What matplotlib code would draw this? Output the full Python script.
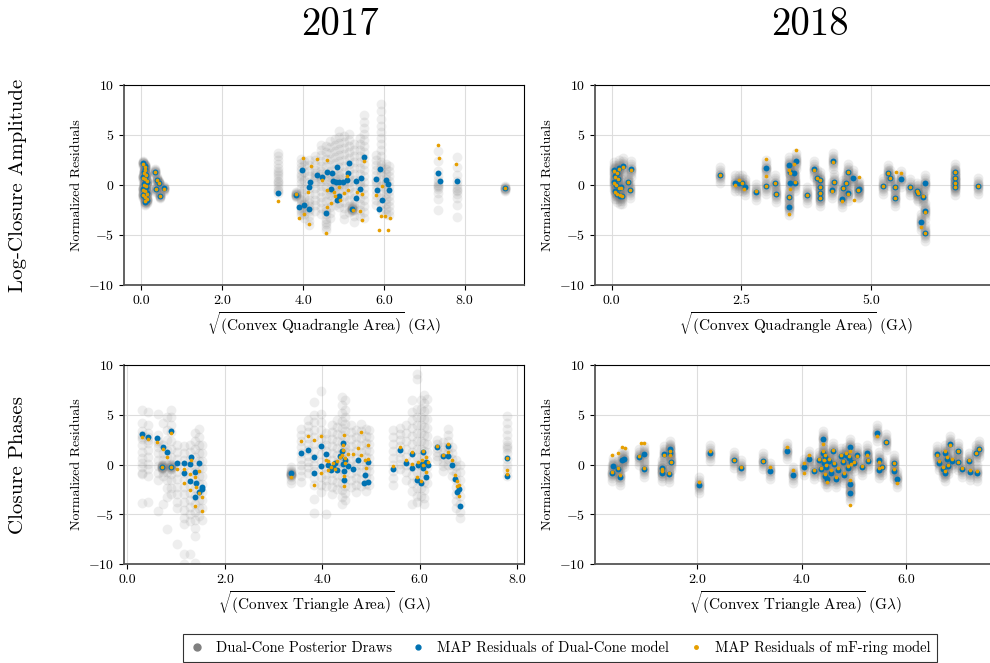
import numpy as np
import matplotlib
matplotlib.use('Agg')
import matplotlib.pyplot as plt
from matplotlib.ticker import FormatStrFormatter
from matplotlib.lines import Line2D

plt.rcParams['font.family'] = 'serif'
plt.rcParams['font.serif'] = ['cmr10']
plt.rcParams['mathtext.fontset'] = 'cm'
plt.rcParams['axes.formatter.use_mathtext'] = True

c_draw = 'gray'
c_dc = '#0072B2'
c_mf = '#E69F00'

# ---------------------------------------------------------------------------
# 2017 log-closure amplitudes
# posterior draws: tight ones around the short baselines, wide columns elsewhere
lca17_tight_x = [0.05, 0.08, 0.10, 0.06, 0.12, 0.04, 0.10, 0.14, 0.07, 0.12, 0.03, 0.09,
                 0.15, 0.05, 0.10, 0.13, 0.08, 0.33, 0.38, 0.43, 0.36, 0.56, 0.46, 3.82, 5.22, 9.01]
lca17_tight_y = [2.2, 1.9, 1.6, 1.3, 1.0, 0.8, 0.6, 0.3, 0.1, -0.2, -0.4, -0.6,
                 -0.8, -1.0, -1.2, -1.5, -1.7, 1.33, 0.53, 0.2, -0.4, -0.33, -1.07, -0.97, -2.37, -0.33]
lca17_col_x = [3.37, 3.95, 4.03, 4.15, 4.30, 4.45, 4.57, 4.68, 4.80, 4.90, 5.02, 5.14,
               5.27, 5.40, 5.50, 5.80, 5.93, 6.05, 6.13, 7.35, 7.81]
lca17_col_y = [
    [3.2, 2.9, 2.5, 2.1, 1.7, 1.4, 1.0, 0.7, 0.4, 0.1, -0.2, -0.5, -0.8, -0.6, 0.3, 1.2],
    [2.6, 2.2, 1.8, 1.5, 1.1, 0.6, 0.2, -0.3, -0.8, -1.4, -1.9, -2.3, -2.7, -3.0, -2.5, -2.0, -1.5, 0.9],
    [2.4, 2.0, 1.3, 0.5, -0.4, -1.2, -1.9, -2.4, -2.9, -3.3, -2.2, -1.7],
    [2.5, 2.0, 1.4, 0.9, 0.3, -0.3, -0.9, -1.5, -2.1, -2.6, -3.1, -3.6, -4.0, -2.4, -1.8],
    [2.9, 2.5, 2.0, 1.5, 1.0, 0.6, 0.2, -0.3, -0.9, -1.5, -2.0, -2.6, 1.2, 0.8],
    [4.0, 3.5, 3.0, 2.4, 1.9, 1.4, 0.9, 0.4, -0.1, -0.6, -1.2, -1.7, -2.3, -2.9, 0.6, 1.1],
    [3.9, 3.3, 2.6, 1.9, 1.2, 0.5, -0.2, -0.9, -1.6, -2.3, -2.9, -3.4, -3.9, -4.2, -4.5, -3.7, -2.6],
    [4.4, 3.8, 3.2, 2.6, 2.0, 1.4, 0.8, 0.2, -0.4, -1.0, -1.6, -2.2, -2.8, -3.3, 0.5, 1.1, -0.7],
    [4.6, 4.0, 3.4, 2.8, 2.2, 1.6, 1.0, 0.4, -0.2, -0.8, -1.4, -2.0, 0.7, 0.1, -0.5],
    [5.4, 4.8, 4.2, 3.6, 3.0, 2.4, 1.8, 1.2, 0.6, 0.0, -0.6, -1.2, -1.8, -2.2, 0.3, 0.9],
    [4.9, 4.3, 3.7, 3.1, 2.5, 1.9, 1.3, 0.7, 0.1, -0.5, -1.1, -1.7, -2.3, -2.9, -3.4, 0.4, -0.2],
    [5.1, 4.5, 3.9, 3.3, 2.7, 2.1, 1.5, 0.9, 0.3, -0.3, -0.9, -1.5, -2.1, -2.7, 0.6],
    [4.1, 3.5, 2.9, 2.3, 1.7, 1.1, 0.5, -0.1, -0.7, -1.3, -1.9, -2.5, -3.1, -3.7, -2.2],
    [4.7, 4.1, 3.5, 2.9, 2.3, 1.7, 1.1, 0.5, -0.1, -0.7, -1.3, -1.9, -2.5, -3.1, 0.2],
    [7.0, 6.3, 5.7, 5.1, 4.5, 3.9, 3.3, 2.7, 2.1, 1.5, 0.9, 0.3, -0.3, -0.9, -1.5, -2.1, -2.7, -3.3],
    [3.0, 2.5, 2.0, 1.5, 1.0, 0.5, 0.0, -0.5, -1.0, -1.5, -2.0, 0.3],
    [8.1, 7.4, 6.6, 5.9, 5.3, 4.7, 4.1, 3.5, 2.9, 2.3, 1.7, 1.1, 0.5, -0.1, -0.7, -1.3, -1.9, -2.5, 2.0, 1.4],
    [2.1, 1.6, 1.1, 0.6, 0.1, -0.4, -0.9, -1.4, -1.9, -2.4, -2.9, 0.3],
    [1.9, 1.4, 0.9, 0.4, -0.1, -0.6, -1.1, -1.6, -2.1, -2.6, -3.0],
    [3.4, 2.4, 1.4, 0.9, 0.5, 0.2, -0.1, -0.4, -0.8, -1.4, -2.5, 0.0, -0.2],
    [2.8, 1.8, 1.0, 0.4, 0.0, -0.3, -0.6, -0.9, -1.3, -2.0, -3.2, -0.5],
]
lca17_dc_x = [0.05, 0.08, 0.10, 0.06, 0.12, 0.04, 0.10, 0.14, 0.07, 0.12, 0.03, 0.09, 0.15, 0.05,
              0.10, 0.13, 0.08, 0.33, 0.38, 0.43, 0.36, 0.56, 0.46,
              3.37, 3.82, 3.90, 3.98, 4.03, 4.15, 4.15, 4.18, 4.35, 4.46, 4.56, 4.60, 4.69, 4.71,
              4.74, 4.82, 4.90, 4.98, 5.08, 4.84, 4.88, 4.84, 5.12, 5.14, 5.22, 5.31, 5.32, 5.40,
              5.44, 5.52, 5.80, 5.83, 5.90, 5.88, 5.95, 6.05, 6.10, 6.12, 7.33, 7.38, 7.81, 9.01]
lca17_dc_y = [2.2, 1.9, 1.6, 1.3, 1.0, 0.8, 0.6, 0.3, 0.1, -0.2, -0.4, -0.6, -0.8, -1.0,
              -1.2, -1.5, -1.7, 1.33, 0.53, 0.2, -0.4, -0.33, -1.07,
              -0.77, -0.97, -2.23, 1.5, -1.97, -0.17, -2.37, 0.3, 0.97, 0.77, -2.83, 1.3, -0.43, 1.17,
              0.4, 0.3, 0.3, 0.35, 0.5, 1.77, -1.1, -1.5, 1.17, 2.17, -2.37, 0.43, -1.3, -0.43,
              0.7, 2.77, 0.57, -0.5, 1.63, -2.43, -1.5, 0.5, 0.1, -0.5, 1.23, 0.43, 0.43, -0.33]
lca17_mf_x = [0.05, 0.08, 0.10, 0.06, 0.12, 0.04, 0.10, 0.14, 0.07, 0.12, 0.03, 0.09, 0.15, 0.05,
              0.10, 0.13, 0.08, 0.33, 0.38, 0.43, 0.36, 0.56, 0.46,
              3.38, 3.82, 3.89, 3.99, 4.03, 4.13, 4.16, 4.19, 4.34, 4.48, 4.59, 4.56, 4.60, 4.60,
              4.69, 4.77, 4.80, 4.90, 4.92, 5.02, 5.08, 5.12, 5.25, 5.33, 5.41, 5.45, 5.46, 5.51,
              5.81, 5.89, 5.92, 5.96, 6.04, 6.10, 6.15, 7.33, 7.36, 7.79, 9.01]
lca17_mf_y = [2.1, 1.8, 1.5, 1.2, 1.0, 0.7, 0.6, 0.4, 0.0, -0.1, -0.5, -0.6, -0.9, -1.0,
              -1.2, -1.4, -1.6, 1.3, 0.5, 0.2, -0.35, -0.35, -1.1,
              -1.6, -0.93, -3.33, 2.73, -2.93, -0.73, -3.87, 1.93, 2.6, 0.53, -2.2, -4.8, 2.53, -0.47,
              -1.8, -0.67, -1.13, -0.2, -1.47, -0.8, 0.87, -0.47, -2.47, -0.67, -2.63, -3.47, -0.87, 2.4,
              -1.0, -4.47, -3.13, -0.07, -3.07, -4.47, -3.27, 4.0, 2.73, 2.13, -0.33]

# ---------------------------------------------------------------------------
# 2018 log-closure amplitudes
lca18_dc_x = [0.05, 0.10, 0.07, 0.12, 0.04, 0.09, 0.14, 0.06, 0.11, 0.16, 0.20, 0.22, 0.37, 0.32,
              0.35, 0.15, 0.18,
              2.08, 2.38, 2.46, 2.51, 2.57, 2.78, 2.98, 2.98, 3.15, 3.16, 3.42, 3.43, 3.43, 3.42,
              3.42, 3.52, 3.56, 3.53, 3.77, 3.90, 3.96, 4.02, 4.02, 4.02, 4.02, 4.24, 4.27, 4.28,
              4.44, 4.47, 4.52, 4.55, 4.55, 4.66, 4.75, 4.77, 5.23, 5.33, 5.36, 5.46, 5.47, 5.57,
              5.76, 5.89, 5.91, 6.00, 6.05, 6.04, 5.96, 6.05, 6.62, 6.62, 6.62, 6.62, 7.06]
lca18_dc_y = [1.5, 1.2, 0.9, 0.6, 0.3, 0.0, -0.3, -0.6, -0.9, -1.1, -1.1, 1.9, 1.57, 0.33,
              -0.5, 1.7, -0.2,
              0.97, 0.17, 0.2, 0.17, -0.2, -0.67, 1.67, -0.1, 0.17, -0.9, 2.0, 1.33, 0.17, -1.2,
              -2.23, 1.17, 2.43, 0.23, -0.97, 1.57, 0.67, 0.5, -0.17, -0.77, -1.33, -0.5, 2.43, 0.3,
              -1.37, -0.33, 0.17, 1.33, -0.83, 0.67, -0.5, -0.4, -0.1, 1.23, 0.67, -0.17, -1.33, 0.57,
              -0.23, -0.63, -0.83, -1.17, 0.17, -2.57, -3.67, -4.77, 1.33, 0.67, 0.17, -0.23, -0.1]
lca18_mf_x = [0.05, 0.10, 0.07, 0.12, 0.04, 0.09, 0.14, 0.06, 0.11, 0.16, 0.20, 0.22, 0.37, 0.32,
              0.35, 0.15, 0.18,
              2.08, 2.38, 2.46, 2.51, 2.55, 2.78, 2.98, 2.98, 2.98, 3.15, 3.16, 3.42, 3.43, 3.43,
              3.42, 3.42, 3.52, 3.56, 3.53, 3.77, 3.90, 3.96, 4.02, 4.02, 4.02, 4.02, 4.24, 4.27,
              4.28, 4.44, 4.47, 4.52, 4.55, 4.55, 4.68, 4.76, 4.75, 5.23, 5.33, 5.36, 5.46, 5.47,
              5.49, 5.58, 5.76, 5.89, 5.91, 6.00, 6.04, 5.96, 6.05, 6.62, 6.62, 6.62, 6.62, 7.06]
lca18_mf_y = [1.4, 1.2, 0.8, 0.6, 0.2, 0.0, -0.3, -0.7, -0.9, -1.0, -1.1, 1.8, 1.55, 0.35,
              -0.5, 1.6, -0.3,
              0.97, 0.0, 0.5, 0.17, -0.37, -0.6, 2.57, 0.9, -0.1, 0.2, -0.9, 1.5, 1.2, -0.43,
              -1.2, -2.9, 2.1, 3.5, 0.3, -1.0, 1.5, 0.7, 0.55, -0.17, -0.77, -1.33, -0.55, 2.3,
              0.3, -1.6, -0.3, 0.2, 1.3, -0.9, -1.5, 0.83, -0.5, -0.1, 1.2, 0.67, -0.2, -1.3,
              1.27, 1.17, -0.23, -0.6, -0.8, -1.1, -2.7, -4.17, -4.77, 1.3, 0.67, 0.17, -0.23, -0.1]

# ---------------------------------------------------------------------------
# 2017 closure phases
cp17_col_x = [0.30, 0.43, 0.62, 0.73, 0.82, 0.90, 1.02, 1.16, 1.28, 1.39, 1.47, 1.54,
              3.35, 3.56, 3.71, 3.84, 3.97, 4.08, 4.20, 4.30, 4.40, 4.46, 4.58, 4.70, 4.80,
              4.90, 4.95, 5.46, 5.60, 5.72, 5.84, 5.94, 6.02, 6.08, 6.15, 6.35, 6.47, 6.57,
              6.67, 6.75, 6.82, 7.80]
cp17_col_y = [
    [5.5, 4.2, 3.4, 3.0, 2.6, 2.0, 1.3, 0.7, 0.2, -0.3, -0.9, -1.0, -3.9, 2.8],
    [5.3, 4.0, 3.2, 2.8, 2.2, 1.5, 0.8, 0.1, -0.5, -1.2, -3.8, 2.5],
    [5.1, 3.0, 2.4, 1.8, 1.2, 0.5, -0.2, -0.9, -1.6, -4.7, 2.2],
    [4.2, 2.0, 1.2, 0.5, 0.0, -0.4, -0.8, -1.2, -4.0, -0.3, -0.2],
    [4.8, 3.5, 2.5, 1.5, 0.8, 0.0, -0.8, -1.6, -2.4, -6.5, -3.3],
    [5.5, 4.8, 4.0, 3.3, 2.4, 1.6, 0.8, 0.0, -0.5, -1.0, -1.6, -2.4, -3.0],
    [2.0, 1.3, 0.6, -0.1, -0.8, -1.5, -2.3, -3.0, -3.8, -8.0, -4.4],
    [1.9, 1.2, 0.5, -0.2, -0.9, -1.6, -2.3, -3.0, -3.8, -4.6, -5.4, -6.0, -10.0, -9.0],
    [2.0, 1.3, 0.6, -0.1, -0.8, -1.5, -2.2, -2.9, -3.6, -4.3, -5.0, -5.7, -9.0],
    [3.2, 2.4, 1.6, 0.8, 0.0, -0.8, -1.6, -2.4, -3.2, -4.0, -4.8, -5.6, -6.4, -7.2, -9.9],
    [3.6, 2.8, 2.0, 1.2, 0.4, -0.4, -1.2, -2.0, -2.8, -3.6, -4.4, -5.2],
    [2.0, 1.2, 0.4, -0.4, -1.2, -2.0, -2.8, -3.6, -4.4, -5.6],
    [-0.3, -0.6, -0.9, -1.1, -1.3, -1.6, -1.9],
    [3.6, 3.0, 2.4, 1.8, 1.2, 0.6, 0.0, -0.6, -1.2, -1.8],
    [4.5, 3.9, 3.3, 2.7, 2.1, 1.5, 0.9, 0.3, -0.3, -0.9],
    [6.3, 5.0, 4.3, 3.5, 2.8, 2.1, 1.4, 0.7, 0.0, -0.7, -1.4, -2.1, -3.5, -4.9],
    [7.4, 5.1, 4.3, 3.5, 2.7, 1.9, 1.1, 0.3, -0.5, -1.3, -2.1, -2.8],
    [3.2, 2.6, 2.0, 1.4, 0.8, 0.2, -0.4, -1.0, -1.6, -2.2, -5.0],
    [4.0, 3.3, 2.6, 1.9, 1.2, 0.5, -0.2, -0.9, -1.6, -2.3, -3.0],
    [4.5, 3.8, 3.1, 2.4, 1.7, 1.0, 0.3, -0.4, -1.1, -1.8, -2.5, 0.1],
    [6.8, 6.0, 5.2, 4.4, 3.7, 3.0, 2.3, 1.6, 0.9, 0.2, -0.5, -1.2, -1.9, -2.6, -3.3, -4.0, 1.2, 0.6],
    [6.5, 5.5, 4.8, 4.1, 3.4, 2.7, 2.0, 1.3, 0.6, -0.1, -0.8, -1.5, -2.2, -2.9, -3.6, 1.7, 0.3],
    [4.0, 3.3, 2.6, 1.9, 1.2, 0.5, -0.2, -0.9, -1.6, -2.3],
    [3.5, 2.8, 2.1, 1.4, 0.7, 0.0, -0.7, -1.4, -2.1, -2.8],
    [4.1, 3.4, 2.7, 2.0, 1.3, 0.6, -0.1, -0.8, -1.5, -2.2],
    [3.6, 2.9, 2.2, 1.5, 0.8, 0.1, -0.6, -1.3, -2.0, -2.7],
    [3.5, 2.8, 2.1, 1.4, 0.7, 0.0, -0.7, -1.4, -2.1],
    [3.5, 2.8, 2.1, 1.4, 0.7, 0.0, -0.7, -1.4, -2.1],
    [3.7, 3.1, 2.5, 1.9, 1.3, 0.7, 0.1, -0.5],
    [4.0, 3.2, 2.4, 1.6, 0.8, 0.0, -0.8, -1.6],
    [5.3, 4.5, 3.7, 2.9, 2.1, 1.3, 0.5, -0.3, -1.1, -1.9, -2.7, -4.0, 6.5],
    [9.1, 8.6, 5.6, 4.8, 4.0, 3.2, 2.4, 1.6, 0.8, 0.0, -0.8, -1.6, -2.4, -3.2, -3.8],
    [6.5, 5.6, 4.8, 4.0, 3.2, 2.4, 1.6, 0.8, 0.0, -0.8, -1.6, -2.4, -3.2],
    [7.0, 6.2, 5.4, 4.6, 3.8, 3.0, 2.2, 1.4, 0.6, -0.2, -1.0, -1.8, -2.6, -3.4, -4.0],
    [6.6, 5.6, 4.6, 3.7, 2.9, 2.1, 1.3, 0.5, -0.3, -1.1, -1.9],
    [2.5, 2.1, 1.7, 1.3, 0.9, 0.5],
    [2.3, 1.8, 1.3, 0.8, 0.3, -0.2, -0.7],
    [3.6, 3.0, 2.4, 1.8, 1.2, 0.6, 0.0],
    [1.8, 1.2, 0.6, 0.0, -0.6, -1.2],
    [0.5, -0.2, -0.9, -1.6, -2.3, -3.0, -3.7, -4.4],
    [0.0, -0.8, -1.6, -2.4, -3.2, -4.0, -4.8, -5.4],
    [4.9, 4.2, 3.6, 3.0, 2.4, 1.8, 1.2, 0.6, 0.0, -0.6, -1.2, 1.6, 2.0],
]
cp17_tight_x = [0.72, 0.90, 3.35]
cp17_tight_y = [-0.25, -0.22, -0.95]
cp17_dc_x = [0.30, 0.43, 0.61, 0.73, 0.81, 0.90, 0.72, 0.90, 1.02, 1.16, 1.16, 1.30, 1.28,
             1.38, 1.46, 1.29, 1.40, 1.39, 1.47, 1.53, 1.54,
             3.35, 3.56, 3.71, 3.84, 3.84, 3.97, 3.97, 4.08, 4.12, 4.18, 4.22, 4.27, 4.31, 4.36,
             4.40, 4.42, 4.43, 4.44, 4.45, 4.46, 4.53, 4.63, 4.74, 4.87, 4.86, 4.94, 4.94,
             5.46, 5.60, 5.72, 5.84, 5.85, 5.94, 5.96, 6.02, 6.04, 6.07, 6.07, 6.13, 6.13, 6.16,
             6.35, 6.47, 6.57, 6.57, 6.66, 6.73, 6.77, 6.80, 6.83, 7.79, 7.79]
cp17_dc_y = [3.03, 2.73, 2.63, 1.79, 1.29, 3.40, -0.22, -0.22, 0.12, 0.12, -0.89, 0.78, 0.05,
             -0.75, 0.12, -1.62, -1.83, -3.24, -2.76, -2.30, -2.50,
             -0.90, 1.17, 1.50, 0.77, -0.83, 1.83, -0.17, 1.10, -0.10, -0.55, -0.30, 0.20, -0.60,
             0.90, 1.40, 2.20, 0.10, -0.70, -1.60, 0.50, -0.20, -0.45, 0.42, -1.05, -1.90, 0.28, -1.80,
             -0.45, 1.46, 0.15, 1.09, -0.32, -1.52, -0.05, -1.86, 0.08, 1.22, -0.39, -1.26, 0.28, -0.10,
             1.76, 0.82, 1.89, 0.82, -0.05, -1.45, -2.80, -2.46, -4.20, -1.19, 0.62]
cp17_mf_x = [0.30, 0.43, 0.61, 0.73, 0.81, 0.90, 0.72, 0.90, 1.02, 1.16, 1.16, 1.30, 1.28,
             1.38, 1.46, 1.29, 1.40, 1.39, 1.47, 1.53, 1.54,
             3.35, 3.56, 3.71, 3.84, 3.84, 3.97, 3.97, 4.08, 4.12, 4.12, 4.18, 4.22, 4.27, 4.31,
             4.36, 4.40, 4.42, 4.43, 4.44, 4.44, 4.45, 4.46, 4.46, 4.53, 4.63, 4.74, 4.80, 4.80,
             4.87, 4.90, 4.94, 4.94,
             5.46, 5.60, 5.72, 5.84, 5.85, 5.94, 5.96, 6.02, 6.04, 6.07, 6.07, 6.13, 6.13, 6.16,
             6.35, 6.47, 6.57, 6.57, 6.66, 6.73, 6.77, 6.77, 6.80, 6.80, 7.79, 7.79, 7.79]
cp17_mf_y = [2.76, 2.56, 2.29, 1.59, 0.79, 3.13, -0.28, -0.22, -0.42, -0.48, -1.89, 0.45, -1.00,
             -1.29, -0.62, -2.56, -2.23, -4.20, -2.90, -3.30, -4.64,
             -1.23, 2.37, 2.83, 2.50, -2.10, 2.90, -0.83, 0.43, 0.39, -0.55, -0.30, 0.20, -0.45,
             0.40, 0.80, 1.00, 1.50, 2.00, 2.96, -1.20, -2.20, 0.20, 0.70, 1.10, 1.10, 1.69, 3.30,
             1.00, 0.45, -0.38, 1.96, 0.60,
             -0.12, 1.76, 0.49, 1.29, 0.08, -1.26, 0.28, -1.69, 0.49, 1.36, -0.05, -0.72, 0.79, 0.22,
             1.83, 0.95, 2.09, 1.22, 0.49, -1.06, -2.13, -1.66, -3.13, -2.06, -0.99, -0.52, 0.69]

# ---------------------------------------------------------------------------
# 2018 closure phases
cp18_dc_x = [0.37, 0.40, 0.48, 0.53, 0.57, 0.61, 0.90, 0.98, 0.98, 1.33, 1.33, 1.37, 1.47,
             1.48, 1.49, 1.51, 2.04, 2.25, 2.70, 2.84, 3.26, 3.40, 3.71, 3.84, 4.04, 4.13, 4.24,
             4.33, 4.36, 4.40, 4.40, 4.42, 4.44, 4.45, 4.46, 4.48, 4.52, 4.55, 4.60, 4.62, 4.66,
             4.70, 4.74, 4.78, 4.80, 4.84, 4.88, 4.90, 4.92, 4.93, 4.93, 4.94, 4.99, 5.06, 5.15,
             5.24, 5.26, 5.44, 5.47, 5.48, 5.53, 5.61, 5.76, 5.77, 5.81,
             6.58, 6.63, 6.69, 6.74, 6.74, 6.78, 6.80, 6.83, 6.86, 6.98, 6.99, 7.06, 7.20, 7.22,
             7.33, 7.34, 7.38]
cp18_dc_y = [-0.89, -0.15, -0.49, -1.22, 0.45, 0.52, 0.79, 1.10, -0.49, -0.82, -0.39, 1.05, -0.95,
             1.59, 1.12, 0.25, -2.09, 1.12, 0.45, -0.35, 0.32, -0.62, 1.32, -1.02, -0.22, 0.52, -0.69,
             0.50, -0.50, 2.60, 1.20, 0.20, -1.20, 0.80, -0.30, -1.50, 0.40, -0.90, 1.40, 0.10, -1.50,
             -0.60, 0.90, 0.30, -1.10, 1.00, -0.40, 0.70, 1.80, -2.00, -2.83, 0.30, 0.12, 0.99, -0.29,
             1.12, 0.39, 3.13, 0.45, -0.55, -0.22, 2.26, 0.18, -0.62, -1.42,
             1.05, 0.20, -0.49, 1.19, -0.89, 0.60, -0.20, 2.06, 0.40, 1.32, 0.25, -0.49, 0.39, -0.75,
             1.12, -0.82, 1.52]
cp18_mf_x = [0.37, 0.38, 0.48, 0.48, 0.53, 0.57, 0.62, 0.90, 0.92, 0.98, 0.98, 1.33, 1.33, 1.37,
             1.47, 1.48, 1.49, 1.51, 2.04, 2.25, 2.70, 2.84, 3.26, 3.40, 3.71, 3.84, 4.04, 4.04,
             4.13, 4.24, 4.33, 4.36, 4.40, 4.40, 4.42, 4.44, 4.45, 4.46, 4.48, 4.52, 4.55, 4.60,
             4.62, 4.66, 4.70, 4.74, 4.78, 4.80, 4.84, 4.88, 4.90, 4.92, 4.93, 4.93, 4.94, 4.99,
             5.06, 5.15, 5.24, 5.26, 5.44, 5.47, 5.48, 5.53, 5.61, 5.76, 5.77, 5.81,
             6.58, 6.63, 6.69, 6.74, 6.74, 6.78, 6.80, 6.83, 6.86, 6.98, 6.99, 7.06, 7.20, 7.22,
             7.33, 7.34, 7.38]
cp18_mf_y = [-0.75, 0.95, -0.40, 1.19, -1.10, 1.72, 1.66, 0.90, 2.13, 2.13, -0.40, -0.70, -0.50,
             0.95, -0.85, 1.35, 1.00, 0.30, -1.72, 1.32, 0.50, -0.30, 0.40, -0.22, 1.79, -0.55, 0.12,
             -0.89, 0.99, -0.60, 0.60, -0.40, 2.10, 1.40, 0.50, -1.00, 1.00, -0.10, -1.80, 0.60,
             -0.60, 1.50, 0.20, -1.30, -0.40, 1.00, 0.40, -0.90, 1.20, -0.20, 0.90, 1.40, -1.60,
             -4.07, 0.10, 0.30, 0.90, -0.20, 1.00, 0.50, 2.86, 0.30, -0.40, -0.30, 2.30, 0.20, -0.50,
             -1.89,
             1.00, 0.40, -0.30, 1.40, -0.70, 0.80, 0.00, 2.00, 0.60, 1.40, 0.30, -0.40, 0.50, -0.60,
             1.20, -0.70, 1.60]

# vertical spread of the posterior draws around points with tight posteriors
tight_spread_17 = [-0.25, -0.15, -0.08, -0.03, 0.0, 0.03, 0.08, 0.15, 0.25]
tight_spread_18 = [-0.8, -0.5, -0.3, -0.18, -0.08, 0.0, 0.08, 0.18, 0.3, 0.5, 0.8]

years = ['2017', '2018']
rows = ['Log-Closure Amplitude', 'Closure Phases']

#-----------------------------------------------------------------------
W, H = 990, 663
fig = plt.figure(figsize=(W / 100, H / 100), dpi=100)

def make_axes(x0, y0, x1, y1):
    """axes from pixel box (left, top, right, bottom)"""
    return fig.add_axes([x0 / W, 1 - y1 / H, (x1 - x0) / W, (y1 - y0) / H])

ax_lca17 = make_axes(124, 85, 524, 285)
ax_lca18 = make_axes(595, 85, 996, 285)
ax_cp17 = make_axes(124, 365, 524, 564)
ax_cp18 = make_axes(595, 365, 996, 564)

def draw_cols(ax, cx, cy):
    for x, ys in zip(cx, cy):
        ax.scatter(np.full(len(ys), x), ys, s=50, color=c_draw, alpha=0.13,
                   linewidths=0, zorder=1)

def draw_tight(ax, tx, ty, spread):
    xx = np.repeat(tx, len(spread))
    yy = np.add.outer(np.asarray(ty), np.asarray(spread)).ravel()
    ax.scatter(xx, yy, s=50, color=c_draw, alpha=0.14, linewidths=0, zorder=1)

def draw_map(ax, dx, dy, mx, my):
    ax.scatter(dx, dy, s=18, color=c_dc, linewidths=0, zorder=3)
    ax.scatter(mx, my, s=7, color=c_mf, linewidths=0, zorder=4)

def style(ax, xlim, xticks, xlab):
    ax.set_xlim(xlim)
    ax.set_ylim(-10, 10)
    ax.set_xticks(xticks)
    ax.set_yticks([-10, -5, 0, 5, 10])
    ax.xaxis.set_major_formatter(FormatStrFormatter('%.1f'))
    ax.grid(True, color='#dddddd', linewidth=0.8, zorder=0)
    ax.set_axisbelow(True)
    ax.tick_params(labelsize=10, length=3.5, width=0.8, direction='out')
    for side in ['left', 'bottom']:
        ax.spines[side].set_color('#555555')
        ax.spines[side].set_linewidth(1.3)
    for side in ['top', 'right']:
        ax.spines[side].set_color('black')
        ax.spines[side].set_linewidth(0.8)
    ax.set_ylabel('Normalized Residuals', fontsize=10)
    ax.set_xlabel(xlab, fontsize=11, labelpad=2)

quad_lab = r'$\sqrt{\mathrm{(Convex\ Quadrangle\ Area)}}$ (G$\lambda$)'
tri_lab = r'$\sqrt{\mathrm{(Convex\ Triangle\ Area)}}$ (G$\lambda$)'

# log-closure amplitudes
draw_tight(ax_lca17, lca17_tight_x, lca17_tight_y, tight_spread_17)
draw_cols(ax_lca17, lca17_col_x, lca17_col_y)
draw_map(ax_lca17, lca17_dc_x, lca17_dc_y, lca17_mf_x, lca17_mf_y)
style(ax_lca17, (-0.43, 9.47), [0, 2, 4, 6, 8], quad_lab)

draw_tight(ax_lca18, lca18_dc_x, lca18_dc_y, tight_spread_18)
draw_map(ax_lca18, lca18_dc_x, lca18_dc_y, lca18_mf_x, lca18_mf_y)
style(ax_lca18, (-0.32, 7.41), [0, 2.5, 5.0], quad_lab)

# closure phases
draw_tight(ax_cp17, cp17_tight_x, cp17_tight_y, tight_spread_17)
draw_cols(ax_cp17, cp17_col_x, cp17_col_y)
draw_map(ax_cp17, cp17_dc_x, cp17_dc_y, cp17_mf_x, cp17_mf_y)
style(ax_cp17, (-0.07, 8.14), [0, 2, 4, 6, 8], tri_lab)

draw_tight(ax_cp18, cp18_dc_x, cp18_dc_y, tight_spread_18)
draw_map(ax_cp18, cp18_dc_x, cp18_dc_y, cp18_mf_x, cp18_mf_y)
style(ax_cp18, (0.05, 7.71), [2, 4, 6], tri_lab)

# column and row titles
fig.text(340 / W, 1 - 25 / H, years[0], fontsize=28, ha='center', va='center')
fig.text(810 / W, 1 - 25 / H, years[1], fontsize=28, ha='center', va='center')
fig.text(18 / W, 1 - 185 / H, rows[0], fontsize=15, rotation=90, ha='center', va='center')
fig.text(18 / W, 1 - 465 / H, rows[1], fontsize=15, rotation=90, ha='center', va='center')

handles = [
    Line2D([], [], ls='none', marker='o', color=c_draw, markersize=5, label='Dual-Cone Posterior Draws'),
    Line2D([], [], ls='none', marker='o', color=c_dc, markersize=3.5, label='MAP Residuals of Dual-Cone model'),
    Line2D([], [], ls='none', marker='o', color=c_mf, markersize=2.5, label='MAP Residuals of mF-ring model'),
]
leg = fig.legend(handles=handles, loc='center', bbox_to_anchor=(560 / W, 1 - 648 / H), ncol=3,
                 fontsize=10.5, frameon=True, fancybox=False, edgecolor='black',
                 handlelength=1.0, handletextpad=0.8, columnspacing=1.3, borderpad=0.5)
leg.get_frame().set_linewidth(0.8)

fig.savefig('out.png', dpi=100)
